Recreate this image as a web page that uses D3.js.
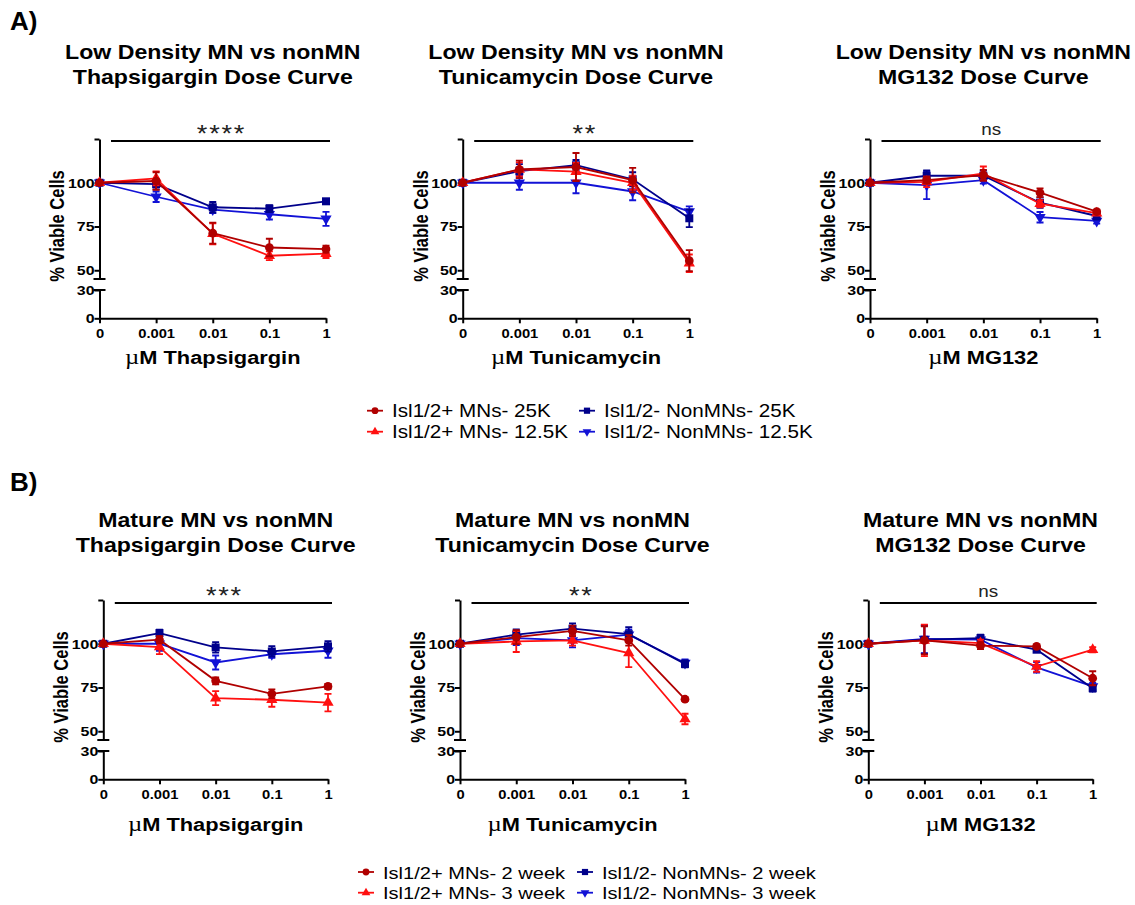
<!DOCTYPE html>
<html>
<head>
    <title></title>
    <style>
        body { margin: 0; background: #fff; }
        text { font-family: "Liberation Sans", Arial, sans-serif; }
    </style>
</head>
<body>
<script src="https://d3js.org/d3.v7.min.js"></script>
<script type="text/javascript">

    // doses on the x axis (categorical)
    var doses = ['0', '0.001', '0.01', '0.1', '1'];
    var drugs = ['Thapsigargin', 'Tunicamycin', 'MG132'];
    var rowTitles = ['Low Density MN vs nonMN', 'Mature MN vs nonMN'];
    var seriesTop = ['Isl1/2+ MNs- 25K', 'Isl1/2+ MNs- 12.5K', 'Isl1/2- NonMNs- 25K', 'Isl1/2- NonMNs- 12.5K'];
    var seriesBottom = ['Isl1/2+ MNs- 2 week', 'Isl1/2+ MNs- 3 week', 'Isl1/2- NonMNs- 2 week', 'Isl1/2- NonMNs- 3 week'];
    var signifTop = ['****', '**', 'ns'];
    var signifBottom = ['***', '**', 'ns'];
    var upperTicks = [50, 75, 100];
    var lowerTicks = [0, 30];

    // series order: MN dark red (circle), MN red (triangle), nonMN navy (square), nonMN blue (down triangle)
    var thapLowMean = [[100, 101, 71.2, 63, 62.1], [100, 102.5, 70.8, 58.3, 59.5], [100, 99.2, 86, 85.2, 89.4], [100, 92, 84.7, 82, 79.4]];
    var thapLowErr  = [[0.5, 5, 6, 5, 2], [0.5, 4, 6, 2.5, 2.5], [0.5, 3, 3, 2, 1], [0.5, 3, 2, 3, 4]];
    var tuniLowMean = [[100, 107.6, 109, 101.5, 55.5], [100, 107.6, 106.3, 100, 54], [100, 106.6, 110, 102, 79.7], [100, 100, 100, 95, 83.5]];
    var tuniLowErr  = [[0.5, 5, 8, 7, 6], [0.5, 4, 5, 4, 5], [0.5, 4, 3, 4, 5], [0.5, 4, 6, 5, 3]];
    var mgLowMean   = [[100, 101.5, 104.4, 94.3, 83.5], [100, 100.5, 105.3, 88, 82.6], [100, 104, 104, 88.6, 81], [100, 98.7, 101.5, 80.3, 78.2]];
    var mgLowErr    = [[0.5, 2, 3, 2.5, 1], [0.5, 3, 4, 2, 1], [0.5, 3, 3, 3, 2], [0.5, 8, 2, 3, 1.5]];

    var thapMatMean = [[100, 102.3, 78.8, 71.4, 75.6], [100, 98.1, 68.9, 68, 66.4], [100, 106.1, 97.9, 95.6, 98.5], [100, 100, 89.3, 94, 96]];
    var thapMatErr  = [[0.5, 2, 2, 2.5, 1.5], [0.5, 4, 4, 4, 5], [0.5, 2, 3, 3, 3], [0.5, 4, 4, 2, 4]];
    var tuniMatMean = [[100, 103.8, 107.4, 101.9, 68.3], [100, 101.3, 101.9, 94.7, 57], [100, 105.2, 108.6, 105.5, 88.5], [100, 103.2, 101.9, 105.2, 89]];
    var tuniMatErr  = [[0.5, 4, 3, 3, 1], [0.5, 6, 3, 8, 3], [0.5, 3, 3, 4, 2], [0.5, 4, 4, 3, 2]];
    var mgMatMean   = [[100, 101.9, 98.9, 98.5, 80.3], [100, 101.9, 100.4, 87, 96.6], [100, 102.3, 103.2, 96.6, 74.6], [100, 102.7, 102.3, 86.5, 75.6]];
    var mgMatErr    = [[0.5, 8, 2, 1, 4], [0.5, 9, 2, 3, 1.5], [0.5, 8, 2, 1, 2], [0.5, 8, 2, 3, 2]];

    var colors = ['#b00000', '#ff1010', '#00008b', '#1212d6'];
    var symbols = [d3.symbolCircle, d3.symbolTriangle, d3.symbolSquare, d3.symbolTriangle];
    var symbolSize = [60, 55, 64, 55];
    var symbolRotate = [0, 0, 0, 180];

    // the original figure is stretched a bit horizontally, text included
    var sx = 1.18;

    var width = 1135, height = 905;
    var svg = d3.select('body').append('svg')
        .attr('width', width)
        .attr('height', height);

    var panels = [
        {mean: thapLowMean, err: thapLowErr, drug: 0, row: 0, left: 99.5, top: 139, w: 226.5},
        {mean: tuniLowMean, err: tuniLowErr, drug: 1, row: 0, left: 462.7, top: 139, w: 226.6},
        {mean: mgLowMean, err: mgLowErr, drug: 2, row: 0, left: 870, top: 139, w: 226.7},
        {mean: thapMatMean, err: thapMatErr, drug: 0, row: 1, left: 103.3, top: 600, w: 224.7},
        {mean: tuniMatMean, err: tuniMatErr, drug: 1, row: 1, left: 460, top: 600, w: 225},
        {mean: mgMatMean, err: mgMatErr, drug: 2, row: 1, left: 868.3, top: 600, w: 224.4}
    ];

    var upperH = 140, lowerTop = 151, lowerBottom = 179.3;

    function stext(parent, x, y, anchor, size, bold, str) {
        return parent.append('text')
            .attr('transform', 'translate(' + x + ',' + y + ') scale(' + sx + ',1)')
            .attr('text-anchor', anchor)
            .style('font-size', size)
            .style('font-weight', bold ? 'bold' : 'normal')
            .text(str);
    }

    // row letters
    svg.append('text').attr('x', 10).attr('y', 29.5)
        .style('font-size', '26px').style('font-weight', 'bold').text('A)');
    svg.append('text').attr('x', 10).attr('y', 490.5)
        .style('font-size', '26px').style('font-weight', 'bold').text('B)');

    panels.forEach(function(p) {
        var g = svg.append('g').attr('transform', 'translate(' + p.left + ',' + p.top + ')');

        var x = d3.scalePoint().domain(doses).range([0, p.w]);
        var yUp = d3.scaleLinear().domain([45, 125]).range([upperH, 0]);
        var yLow = d3.scaleLinear().domain([0, 30]).range([lowerBottom, lowerTop]);

        // titles
        var t1 = p.row === 0 ? -80 : -73;
        stext(g, p.w / 2, t1, 'middle', '19.6px', true, rowTitles[p.row]);
        stext(g, p.w / 2, t1 + 25, 'middle', '19.6px', true, drugs[p.drug] + ' Dose Curve');

        // y axis, upper segment
        var axUp = d3.axisLeft(yUp)
            .tickValues([125].concat(upperTicks))
            .tickSize(5).tickSizeOuter(0).tickPadding(1)
            .tickFormat(function(d) { return d === 125 ? '' : d; });
        var gUp = g.append('g').call(axUp);

        var axLow = d3.axisLeft(yLow)
            .tickValues(lowerTicks)
            .tickSize(5).tickSizeOuter(0).tickPadding(1);
        var gLow = g.append('g').call(axLow);

        var xAx = d3.axisBottom(x).tickSize(5).tickSizeOuter(0).tickPadding(7);
        var gX = g.append('g').attr('transform', 'translate(0,' + lowerBottom + ')').call(xAx);

        [gUp, gLow, gX].forEach(function(a) {
            a.selectAll('path, line').attr('stroke', '#000').attr('stroke-width', 2);
            a.selectAll('text').attr('fill', '#000')
                .style('font-weight', 'bold')
                .style('font-family', '"Liberation Sans", Arial, sans-serif');
        });
        gX.selectAll('.tick text').style('font-size', '12.5px')
            .attr('y', 11).attr('transform', 'scale(' + sx + ',1)');
        [gUp, gLow].forEach(function(a) {
            a.selectAll('.tick text').style('font-size', '13.5px')
                .attr('x', -5 / sx).attr('transform', 'scale(' + sx + ',1)');
        });

        // break marks
        g.append('line').attr('x1', -6).attr('x2', 6).attr('y1', upperH).attr('y2', upperH)
            .attr('stroke', '#000').attr('stroke-width', 2);
        g.append('line').attr('x1', -6).attr('x2', 6).attr('y1', lowerTop).attr('y2', lowerTop)
            .attr('stroke', '#000').attr('stroke-width', 2);

        // axis labels
        g.append('text')
            .attr('transform', 'translate(-42,' + 87 + ') rotate(-90) scale(1,' + sx + ')')
            .attr('text-anchor', 'middle').attr('dy', '0.35em')
            .style('font-size', '16.5px').style('font-weight', 'bold')
            .text('% Viable Cells');
        var xl = stext(g, p.w / 2, lowerBottom + (p.row === 0 ? 46 : 52), 'middle', '18.5px', true, '');
        xl.append('tspan').style('font-family', '"Liberation Serif", serif')
            .style('font-weight', 'normal').style('font-size', '21px').text('\u00b5');
        xl.append('tspan').text('M ' + drugs[p.drug]);

        // significance bar
        var barY = p.row === 0 ? 2 : 3;
        g.append('line').attr('x1', x('0') + 11.5).attr('x2', x('1') + 4)
            .attr('y1', barY).attr('y2', barY)
            .attr('stroke', '#000').attr('stroke-width', 2);
        var sig = (p.row === 0 ? signifTop : signifBottom)[p.drug];
        var midX = (x('0') + 11.5 + x('1') + 4) / 2;
        if (sig === 'ns') {
            stext(g, midX, barY - 6, 'middle', '16px', false, sig).attr('fill', '#222');
        } else {
            stext(g, midX + 1, barY + 1, 'middle', '23px', false, sig)
                .style('letter-spacing', '1.5px').attr('fill', '#222');
        }

        // series: draw nonMN first, MN on top
        var order = [3, 2, 1, 0];
        order.forEach(function(s) {
            var pts = doses.map(function(d, i) {
                return {dose: d, m: p.mean[s][i], e: p.err[s][i]};
            });
            var line = d3.line()
                .x(function(d) { return x(d.dose); })
                .y(function(d) { return yUp(d.m); });
            var sg = g.append('g');
            sg.append('path').datum(pts)
                .attr('d', line)
                .attr('fill', 'none')
                .attr('stroke', colors[s])
                .attr('stroke-width', 1.8);
            sg.selectAll('.eb').data(pts).enter().append('path')
                .attr('d', function(d) {
                    var xx = x(d.dose), y0 = yUp(d.m - d.e), y1 = yUp(d.m + d.e);
                    return 'M' + xx + ',' + y0 + 'V' + y1 +
                        'M' + (xx - 3.5) + ',' + y0 + 'H' + (xx + 3.5) +
                        'M' + (xx - 3.5) + ',' + y1 + 'H' + (xx + 3.5);
                })
                .attr('fill', 'none')
                .attr('stroke', colors[s])
                .attr('stroke-width', 1.8);
            sg.selectAll('.mk').data(pts).enter().append('path')
                .attr('d', d3.symbol().type(symbols[s]).size(symbolSize[s]))
                .attr('transform', function(d) {
                    return 'translate(' + x(d.dose) + ',' + yUp(d.m) + ') rotate(' + symbolRotate[s] + ')';
                })
                .attr('fill', colors[s]);
        });
    });

    // legends
    function legend(names, rows, cols, fs) {
        names.forEach(function(n, i) {
            var col = i < 2 ? 0 : 1;
            var row = i % 2;
            var cx = cols[col], cy = rows[row];
            var lg = svg.append('g');
            lg.append('line').attr('x1', cx - 8).attr('x2', cx + 8)
                .attr('y1', cy).attr('y2', cy)
                .attr('stroke', colors[i]).attr('stroke-width', 1.8);
            lg.append('path')
                .attr('d', d3.symbol().type(symbols[i]).size(symbolSize[i] * 0.6))
                .attr('transform', 'translate(' + cx + ',' + cy + ') rotate(' + symbolRotate[i] + ')')
                .attr('fill', colors[i]);
            stext(lg, cx + 17, cy + 6.5, 'start', fs, false, n);
        });
    }
    legend(seriesTop, [410.7, 431.7], [375, 587], '17.5px');
    legend(seriesBottom, [872, 892.7], [366, 585], '17px');

</script>
</body>
</html>
